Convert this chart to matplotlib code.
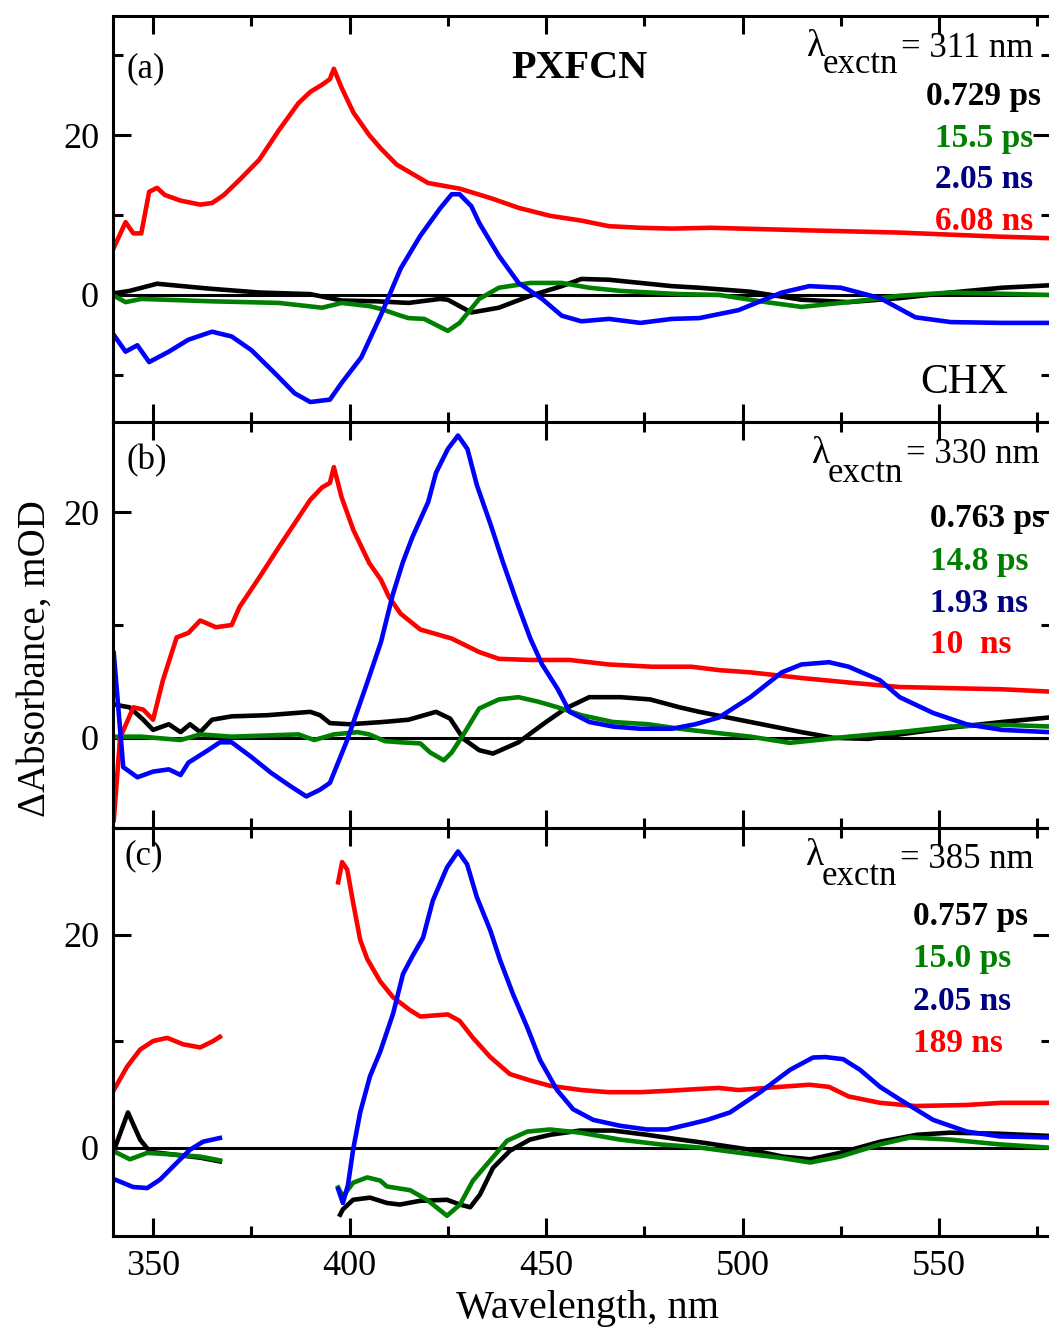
import matplotlib.pyplot as plt
from matplotlib.ticker import MultipleLocator

plt.rcParams['font.family'] = ['Liberation Serif', 'DejaVu Serif']
plt.rcParams['mathtext.fontset'] = 'custom'
plt.rcParams['mathtext.rm'] = 'Liberation Serif'

# ---- panel (a), excitation 311 nm ----
a_red_wl = [340, 343, 345, 347, 349, 351, 353, 357, 362, 365, 368, 372, 377, 382, 387, 390, 393, 395, 396,
            398, 401, 405, 408, 412, 420, 428, 436, 443, 451, 459, 466, 474, 482, 492, 515, 540, 565, 578]
a_red = [5.9, 9.1, 7.7, 7.7, 12.9, 13.4, 12.5, 11.8, 11.3, 11.5, 12.5, 14.4, 16.9, 20.6, 24.0, 25.4, 26.3, 27.0, 28.3,
         25.9, 22.8, 20.0, 18.3, 16.3, 14.0, 13.3, 12.1, 10.9, 9.9, 9.3, 8.6, 8.4, 8.3, 8.4, 8.1, 7.8, 7.3, 7.1]
a_blue_wl = [340, 343, 346, 349, 354, 359, 365, 370, 375, 381, 386, 390, 395, 398, 403, 408, 413, 418, 423, 426,
             428, 431, 433, 438, 443, 449, 454, 459, 466, 474, 482, 489, 499, 510, 517, 525, 535, 544, 553, 566, 578]
a_blue = [-5.0, -7.1, -6.3, -8.4, -7.1, -5.6, -4.6, -5.2, -6.9, -9.8, -12.3, -13.4, -13.1, -11.0, -7.8, -2.5, 3.3,
          7.4, 10.8, 12.6, 12.6, 11.1, 9.0, 4.9, 1.5, -0.5, -2.6, -3.3, -3.0, -3.5, -3.0, -2.9, -1.9, 0.3, 1.1, 0.9,
          -0.4, -2.8, -3.4, -3.5, -3.5]
a_black_wl = [340, 344, 351, 364, 377, 390, 398, 407, 415, 423, 425, 431, 438, 446, 454, 459, 466, 474, 482, 489,
              502, 515, 527, 540, 553, 566, 578]
a_black = [0.2, 0.5, 1.4, 0.8, 0.3, 0.1, -0.7, -0.8, -1.0, -0.5, -0.6, -2.2, -1.6, -0.1, 1.1, 2.0, 1.9, 1.5, 1.1,
           0.9, 0.4, -0.6, -0.9, -0.4, 0.3, 0.9, 1.2]
a_green_wl = [340, 343, 347, 365, 382, 393, 398, 405, 408, 413, 415, 419, 425, 428, 433, 438, 446, 454, 461, 469,
              484, 494, 506, 515, 527, 540, 553, 578]
a_green = [-0.1, -0.9, -0.5, -0.8, -1.0, -1.6, -1.0, -1.4, -1.75, -2.6, -2.9, -3.0, -4.5, -3.5, -0.5, 0.9, 1.5,
           1.5, 0.9, 0.5, 0.1, 0.0, -0.9, -1.5, -0.9, -0.1, 0.3, 0.0]

# ---- panel (b), excitation 330 nm ----
b_red_wl = [340, 341.6, 345, 347.5, 350, 352.5, 356, 359, 362, 366, 370, 372, 377, 382, 386, 390, 393, 395, 396,
            398, 401, 405, 408, 410, 413, 418, 426, 433, 438, 446, 456, 466, 477, 487, 494, 502, 515, 527, 540, 553,
            566, 578]
b_red = [-7.3, 0.0, 2.7, 2.5, 1.6, 5.1, 8.9, 9.3, 10.4, 9.8, 10.0, 11.6, 14.2, 16.9, 19.0, 21.1, 22.2, 22.6, 24.0,
         21.3, 18.4, 15.5, 14.0, 12.5, 11.0, 9.6, 8.8, 7.6, 7.0, 6.9, 6.9, 6.5, 6.3, 6.3, 6.0, 5.8, 5.3, 4.9, 4.5,
         4.4, 4.3, 4.1]
b_blue_wl = [340, 342.4, 346, 350, 354, 357, 359, 364, 367, 370, 375, 380, 385, 389, 392.5, 395, 399.4, 404.5, 408,
             411, 413.6, 416, 420, 422, 425, 427.6, 430, 432.4, 436, 439, 442.6, 446, 449, 453, 456, 461, 467, 474,
             482, 488, 494, 502, 510, 515, 522, 527, 535, 540, 548.5, 557, 566, 578]
b_blue = [7.5, -2.6, -3.5, -3.0, -2.8, -3.3, -2.2, -1.1, -0.4, -0.4, -1.7, -3.1, -4.3, -5.2, -4.6, -4.0, -0.2, 4.9,
          8.5, 12.7, 15.6, 17.8, 20.9, 23.5, 25.6, 26.8, 25.6, 22.4, 18.8, 15.6, 12.0, 8.8, 6.5, 4.3, 2.3, 1.4, 1.0,
          0.8, 0.8, 1.2, 1.8, 3.6, 5.8, 6.5, 6.7, 6.3, 5.1, 3.6, 2.2, 1.2, 0.7, 0.5]
b_black_wl = [340.8, 344, 347.5, 350, 354, 357, 359.4, 362, 365, 370, 379, 390, 392.5, 395, 400, 408.5, 415, 422,
              425.6, 429, 433, 436.5, 443, 450, 455, 461, 469, 476.5, 484, 489, 502, 515, 523, 532, 540, 553, 566, 578]
b_black = [2.9, 2.7, 1.6, 0.7, 1.2, 0.5, 1.2, 0.5, 1.6, 1.9, 2.0, 2.3, 2.0, 1.3, 1.2, 1.4, 1.6, 2.3, 1.7, -0.1,
           -1.1, -1.4, -0.4, 1.4, 2.6, 3.6, 3.6, 3.4, 2.7, 2.3, 1.4, 0.5, 0.0, -0.1, 0.3, 0.9, 1.4, 1.8]
b_green_wl = [340, 347, 357, 362, 370, 387, 391, 396, 402, 405, 409, 413, 418, 420.5, 424, 426, 429, 433, 438, 443,
              448, 453, 459, 467, 476, 484, 489, 502, 512, 519, 527, 540, 553, 566, 578]
b_green = [0.1, 0.1, -0.2, 0.3, 0.1, 0.3, -0.2, 0.3, 0.5, 0.3, -0.3, -0.4, -0.5, -1.3, -2.0, -1.3, 0.3, 2.6, 3.4,
           3.6, 3.2, 2.7, 2.0, 1.4, 1.2, 0.8, 0.6, 0.1, -0.45, -0.2, 0.1, 0.5, 1.0, 1.15, 1.0]

# ---- panel (c), excitation 385 nm (gap around the pump) ----
c_red_wl1 = [340, 343.4, 346.7, 350, 353.6, 357.6, 362, 365.3, 367]
c_red1 = [5.4, 7.6, 9.2, 10.0, 10.3, 9.7, 9.4, 10.0, 10.4]
c_red_wl2 = [397.1, 398.1, 399.4, 400.9, 402.7, 404.5, 407.8, 411.1, 415.4, 418, 425, 428, 431.4, 435.8, 440.8, 446,
             451, 459, 466, 474, 482, 489, 494, 499, 509.5, 517, 522, 527, 535, 544, 557, 566, 578]
c_red2 = [24.9, 26.8, 26.1, 23.0, 19.5, 17.7, 15.6, 14.1, 12.9, 12.3, 12.5, 11.9, 10.3, 8.5, 6.9, 6.3, 5.8, 5.4,
          5.2, 5.2, 5.35, 5.5, 5.6, 5.4, 5.7, 5.9, 5.7, 4.8, 4.2, 3.9, 4.0, 4.2, 4.2]
c_blue_wl1 = [340.3, 344.9, 348.5, 351.8, 356.1, 359.4, 362.7, 367]
c_blue1 = [-3.0, -3.7, -3.8, -3.0, -1.4, -0.2, 0.55, 0.9]
c_blue_wl2 = [397.1, 398.3, 399.6, 400.9, 402.7, 405.2, 407.8, 411.1, 413.6, 416.2, 418.7, 421.2, 424.8, 427.6,
              429.9, 432.4, 435.8, 438.3, 441.6, 445.2, 448.5, 452.8, 456.9, 462, 468.8, 475.7, 480.8, 486.6, 491,
              496.8, 504.5, 512.1, 517.9, 521, 525.6, 529.9, 535, 540.1, 548.5, 557.1, 565.5, 577.7]
c_blue2 = [-3.9, -5.2, -3.5, -0.2, 3.3, 6.7, 9.0, 12.6, 16.3, 18.1, 19.7, 23.2, 26.3, 27.8, 26.6, 23.5, 20.4, 17.6,
           14.4, 11.3, 8.2, 5.4, 3.6, 2.6, 2.05, 1.7, 1.7, 2.2, 2.6, 3.3, 5.2, 7.3, 8.45, 8.5, 8.3, 7.3, 5.7, 4.5,
           2.6, 1.5, 1.05, 0.95]
c_black_wl1 = [340.3, 343.6, 346.7, 349.2, 355.1, 362, 367]
c_black1 = [0.0, 3.3, 0.75, -0.4, -0.65, -0.95, -1.3]
c_black_wl2 = [397.6, 398.3, 400.9, 405.2, 409.5, 412.8, 417.9, 424.8, 428.1, 430.7, 433.2, 436.5, 440.8, 445.9,
               451, 458.7, 467, 475.7, 484.1, 489.2, 501.9, 510.3, 517.2, 524.8, 535, 544.4, 552.8, 565.5, 577.7]
c_black2 = [-6.3, -5.8, -4.9, -4.7, -5.2, -5.35, -5.0, -4.9, -5.35, -5.6, -4.4, -1.9, -0.3, 0.75, 1.2, 1.6, 1.6,
            1.2, 0.75, 0.5, -0.2, -0.85, -1.1, -0.5, 0.55, 1.2, 1.4, 1.3, 1.1]
c_green_wl1 = [340.3, 344.1, 348.5, 355.1, 362, 367]
c_green1 = [-0.4, -1.1, -0.5, -0.65, -0.85, -1.2]
c_green_wl2 = [397.1, 398.3, 400.9, 404.5, 407.8, 409.5, 415.4, 419.7, 424.8, 428.1, 431.4, 435.8, 440.1, 445.2,
               451, 458.7, 468.8, 479, 489.2, 499.4, 509.5, 517.2, 524.8, 535, 542.6, 552.8, 565.5, 577.7]
c_green2 = [-3.75, -4.6, -3.3, -2.8, -3.1, -3.65, -4.0, -4.9, -6.4, -5.35, -3.1, -1.2, 0.65, 1.5, 1.7, 1.4, 0.75,
            0.3, 0.0, -0.5, -0.95, -1.4, -0.85, 0.3, 0.95, 0.75, 0.3, 0.0]

a_times = ["0.729 ps", "15.5 ps", "2.05 ns", "6.08 ns"]
b_times = ["0.763 ps", "14.8 ps", "1.93 ns", "10  ns"]
c_times = ["0.757 ps", "15.0 ps", "2.05 ns", "189 ns"]
exc = ["311", "330", "385"]

RED, BLUE, GREEN, BLACK = '#ff0000', '#0000ff', '#008000', '#000000'
text_colors = [BLACK, GREEN, '#000080', RED]

W, H = 1049, 1332
fig = plt.figure(figsize=(W / 100, H / 100), dpi=100)


def fx(x):
    return x / W


def fy(y):
    return 1 - y / H


left, right = 113, 1051
boxes = [(16, 422), (422, 828), (828, 1236)]
ylims = [(-15.9, 34.9), (-8.0, 28.0), (-8.3, 30.0)]
axs = []
for (top, bot), yl in zip(boxes, ylims):
    ax = fig.add_axes([fx(left), fy(bot), (right - left) / W, (bot - top) / H])
    ax.set_xlim(339.8, 578.5)
    ax.set_ylim(*yl)
    ax.axhline(0, color='k', lw=2.2, zorder=1)
    ax.xaxis.set_major_locator(MultipleLocator(50))
    ax.xaxis.set_minor_locator(MultipleLocator(25))
    ax.yaxis.set_major_locator(MultipleLocator(20))
    ax.yaxis.set_minor_locator(MultipleLocator(10))
    ax.tick_params(which='both', direction='in', top=True, right=True, width=2.2, labelsize=26, pad=10)
    ax.tick_params(which='major', length=13)
    ax.tick_params(which='minor', length=7)
    for s in ax.spines.values():
        s.set_linewidth(2.2)
    axs.append(ax)

lw = 3.3
ax = axs[0]
ax.plot(a_black_wl, a_black, color=BLACK, lw=lw)
ax.plot(a_green_wl, a_green, color=GREEN, lw=lw)
ax.plot(a_red_wl, a_red, color=RED, lw=lw)
ax.plot(a_blue_wl, a_blue, color=BLUE, lw=lw)

ax = axs[1]
ax.plot(b_black_wl, b_black, color=BLACK, lw=lw)
ax.plot(b_green_wl, b_green, color=GREEN, lw=lw)
ax.plot(b_red_wl, b_red, color=RED, lw=lw)
ax.plot(b_blue_wl, b_blue, color=BLUE, lw=lw)

ax = axs[2]
ax.plot(c_black_wl1, c_black1, color=BLACK, lw=lw)
ax.plot(c_black_wl2, c_black2, color=BLACK, lw=lw)
ax.plot(c_green_wl1, c_green1, color=GREEN, lw=lw)
ax.plot(c_green_wl2, c_green2, color=GREEN, lw=lw)
ax.plot(c_red_wl1, c_red1, color=RED, lw=lw)
ax.plot(c_red_wl2, c_red2, color=RED, lw=lw)
ax.plot(c_blue_wl1, c_blue1, color=BLUE, lw=lw)
ax.plot(c_blue_wl2, c_blue2, color=BLUE, lw=lw)

for ax in axs[:2]:
    ax.tick_params(labelbottom=False)

# panel letters
for lab, (x, y) in zip(["(a)", "(b)", "(c)"], [(127, 69), (127, 461), (124, 856)]):
    fig.text(fx(x), fy(y), lab, fontsize=25, ha='left', va='center')

fig.text(fx(580), fy(78), "PXFCN", fontsize=29, fontweight='bold', ha='center', va='baseline')
fig.text(fx(920), fy(393), "CHX", fontsize=30, ha='left', va='baseline')

# excitation wavelength labels
exc_pos = [(807, 56, 73, 1033, 57), (812, 463, 482, 1040, 463), (806, 865, 885, 1033, 868)]
for e, (xl, yl_, ys, xr, yn) in zip(exc, exc_pos):
    fig.text(fx(xl), fy(yl_), "λ", fontsize=27, ha='left', va='baseline')
    fig.text(fx(xl + 16), fy(ys), "exctn", fontsize=25, ha='left', va='baseline')
    fig.text(fx(xr), fy(yn), "= " + e + " nm", fontsize=25, ha='right', va='baseline')

# lifetimes
for labs, x, ha, ys in [(a_times, 984, 'center', [105, 147, 188, 230]),
                        (b_times, 930, 'left', [527, 570, 612, 653]),
                        (c_times, 913, 'left', [925, 967, 1010, 1052])]:
    for t, c, y in zip(labs, text_colors, ys):
        fig.text(fx(x), fy(y), t, fontsize=24, fontweight='bold', color=c, ha=ha, va='baseline')

fig.text(fx(588), fy(1318), "Wavelength, nm", fontsize=29, ha='center', va='baseline')
fig.text(fx(35), fy(659), "ΔAbsorbance, mOD", fontsize=28, rotation=90, ha='center', va='center')

fig.savefig("out.png", dpi=100)
